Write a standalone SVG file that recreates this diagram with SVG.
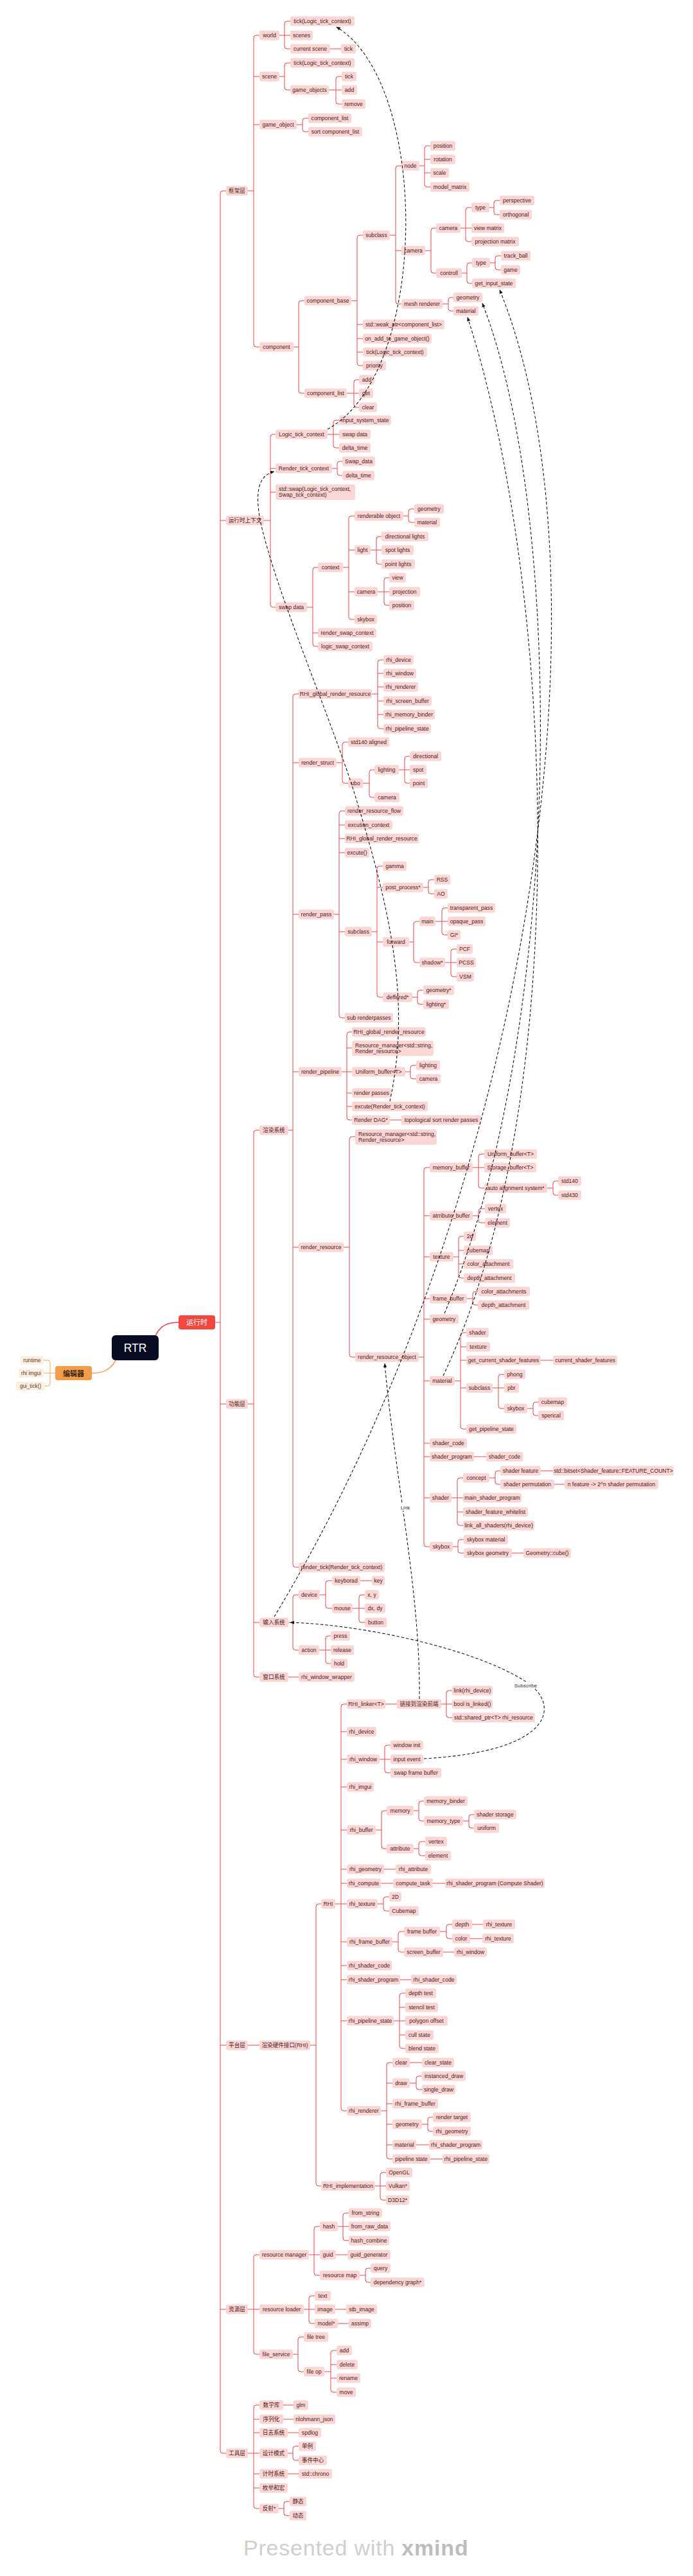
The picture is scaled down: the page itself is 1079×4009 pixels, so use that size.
<svg xmlns="http://www.w3.org/2000/svg" width="1079" height="4009" viewBox="0 0 1079 4009">
<style>
.n rect{fill:#fcd6d5;rx:3px}
.n text{font-family:"Liberation Sans","Noto Sans CJK SC",sans-serif;font-size:8.6px;fill:#4a1c1c;text-anchor:middle}
.ml text{text-anchor:start}
.e rect{fill:#fdefe2;rx:3px}
.e text{font-family:"Liberation Sans",sans-serif;font-size:8.2px;fill:#5a3a25;text-anchor:middle}
#connectors path{fill:none;stroke:#e3474d;stroke-width:1}
#editorlinks path{fill:none;stroke:#efa55b;stroke-width:1}
#relations path{fill:none;stroke:#141414;stroke-width:1.1;stroke-dasharray:4.5 3;marker-end:url(#ah)}
.lbl{font-family:"Liberation Sans",sans-serif;font-size:8px;fill:#333;text-anchor:middle}
</style>
<defs>
<marker id="ah" viewBox="0 0 10 10" refX="9" refY="5" markerWidth="6" markerHeight="6" orient="auto"><path d="M0 1L10 5L0 9z" fill="#141414" stroke="none"/></marker>
</defs>
<rect width="1079" height="4009" fill="#fff"/>

<g id="connectors">
<path d="M242 2079C250 2062 262 2058 278 2058" style="stroke-width:1.6"/>
<path d="M335 2058H343M352 297H347Q343 297 343 301V3814Q343 3818 347 3818H352M343 810H352M343 2185H352M343 3183H352M343 3594H352"/>
<path d="M386 297H395M404 55H399Q395 55 395 59V536Q395 540 399 540H404M395 119H404M395 194H404"/>
<path d="M435 55H443M452 33H447Q443 33 443 37V72Q443 76 447 76H452M443 55H452"/>
<path d="M514 76H531"/>
<path d="M435 119H443M452 98H447Q443 98 443 102V136Q443 140 447 140H452"/>
<path d="M512 140H523M532 119H527Q523 119 523 123V158Q523 162 527 162H532M523 140H532"/>
<path d="M462 194H471M480 184H475Q471 184 471 188V201Q471 205 475 205H480"/>
<path d="M457 540H465M474 468H469Q465 468 465 472V608Q465 612 469 612H474"/>
<path d="M547 468H556M565 366H560Q556 366 556 370V565Q556 569 560 569H565M556 505H565M556 527H565M556 548H565"/>
<path d="M607 366H616M625 258H620Q616 258 616 262V469Q616 473 620 473H625M616 390H625"/>
<path d="M653 258H661M670 227H665Q661 227 661 231V287Q661 291 665 291H670M661 248H670M661 269H670"/>
<path d="M662 390H671M679 355H675Q671 355 671 359V421Q671 425 675 425H679"/>
<path d="M717 355H725M734 323H729Q725 323 725 327V372Q725 376 729 376H734M725 355H734"/>
<path d="M762 323H769M778 312H773Q769 312 769 316V330Q769 334 773 334H778"/>
<path d="M719 425H727M735 409H731Q727 409 727 413V437Q727 441 731 441H735"/>
<path d="M763 409H771M780 398H775Q771 398 771 402V416Q771 420 775 420H780"/>
<path d="M689 473H698M706 463H702Q698 463 698 467V480Q698 484 702 484H706"/>
<path d="M540 612H551M559 591H555Q551 591 551 595V630Q551 634 555 634H559M551 612H559"/>
<path d="M411 810H421M429 676H425Q421 676 421 680V941Q421 945 425 945H429M421 729H429M421 766H429"/>
<path d="M510 676H519M528 654H523Q519 654 519 658V693Q519 697 523 697H528M519 676H528"/>
<path d="M517 729H525M533 718H529Q525 718 525 722V736Q525 740 529 740H533"/>
<path d="M478 945H487M495 883H491Q487 883 487 887V1002Q487 1006 491 1006H495M487 985H495"/>
<path d="M534 883H543M552 803H547Q543 803 543 807V960Q543 964 547 964H552M543 856H552M543 921H552"/>
<path d="M628 803H636M645 792H640Q636 792 636 796V809Q636 813 640 813H645"/>
<path d="M577 856H586M594 835H590Q586 835 586 839V874Q586 878 590 878H594M586 856H594"/>
<path d="M588 921H598M606 899H602Q598 899 598 903V938Q598 942 602 942H606M598 921H606"/>
<path d="M386 2185H395M404 1759H399Q395 1759 395 1763V2606Q395 2610 399 2610H404M395 2525H404"/>
<path d="M449 1759H456M465 1080H460Q456 1080 456 1084V2435Q456 2439 460 2439H465M456 1187H465M456 1423H465M456 1668H465M456 1941H465"/>
<path d="M579 1080H588M597 1027H592Q588 1027 588 1031V1130Q588 1134 592 1134H597M588 1048H597M588 1069H597M588 1091H597M588 1112H597"/>
<path d="M524 1187H533M542 1155H537Q533 1155 533 1159V1215Q533 1219 537 1219H542"/>
<path d="M565 1219H575M583 1198H579Q575 1198 575 1202V1237Q575 1241 579 1241H583"/>
<path d="M621 1198H630M638 1177H634Q630 1177 630 1181V1215Q630 1219 634 1219H638M630 1198H638"/>
<path d="M520 1423H528M537 1262H532Q528 1262 528 1266V1580Q528 1584 532 1584H537M528 1284H537M528 1305H537M528 1327H537M528 1450H537"/>
<path d="M579 1450H587M596 1348H591Q587 1348 587 1352V1548Q587 1552 591 1552H596M587 1381H596M587 1466H596"/>
<path d="M659 1381H667M676 1369H671Q667 1369 667 1373V1387Q667 1391 671 1391H676"/>
<path d="M637 1466H644M653 1434H648Q644 1434 644 1438V1494Q644 1498 648 1498H653"/>
<path d="M678 1434H688M697 1413H692Q688 1413 688 1417V1451Q688 1455 692 1455H697M688 1434H697"/>
<path d="M693 1498H702M711 1477H706Q702 1477 702 1481V1516Q702 1520 706 1520H711M702 1498H711"/>
<path d="M642 1552H650M659 1541H654Q650 1541 650 1545V1559Q650 1563 654 1563H659"/>
<path d="M532 1668H540M548 1606H544Q540 1606 540 1610V1739Q540 1743 544 1743H548M540 1631H548M540 1668H548M540 1701H548M540 1722H548"/>
<path d="M631 1668H639M648 1658H643Q639 1658 639 1662V1675Q639 1679 643 1679H648"/>
<path d="M607 1743H625"/>
<path d="M535 1941H544M553 1769H548Q544 1769 544 1773V2108Q544 2112 548 2112H553"/>
<path d="M652 2112H660M669 1817H664Q660 1817 660 1821V2403Q660 2407 664 2407H669M660 1892H669M660 1956H669M660 2021H669M660 2053H669M660 2149H669M660 2246H669M660 2267H669M660 2331H669"/>
<path d="M736 1817H745M754 1796H749Q745 1796 745 1800V1845Q745 1849 749 1849H754M745 1817H754"/>
<path d="M852 1849H861M869 1838H865Q861 1838 861 1842V1856Q861 1860 865 1860H869"/>
<path d="M736 1892H745M755 1881H749Q745 1881 745 1885V1899Q745 1903 749 1903H755"/>
<path d="M706 1956H714M722 1924H718Q714 1924 714 1928V1985Q714 1989 718 1989H722M714 1946H722M714 1967H722"/>
<path d="M727 2021H736M744 2010H740Q736 2010 736 2014V2027Q736 2031 740 2031H744"/>
<path d="M708 2149H717M726 2074H721Q717 2074 717 2078V2220Q717 2224 721 2224H726M717 2096H726M717 2117H726M717 2160H726"/>
<path d="M842 2117H861"/>
<path d="M767 2160H776M785 2139H780Q776 2139 776 2143V2188Q776 2192 780 2192H785M776 2160H785"/>
<path d="M821 2192H830M838 2182H834Q830 2182 830 2186V2199Q830 2203 834 2203H838"/>
<path d="M738 2267H757"/>
<path d="M703 2331H712M721 2300H716Q712 2300 712 2304V2370Q712 2374 716 2374H721M712 2331H721M712 2353H721"/>
<path d="M762 2300H771M779 2289H775Q771 2289 771 2293V2306Q771 2310 775 2310H779"/>
<path d="M842 2289H861M863 2310H879"/>
<path d="M705 2407H713M722 2396H717Q713 2396 713 2400V2413Q713 2417 717 2417H722"/>
<path d="M797 2417H815"/>
<path d="M449 2525H456M465 2482H460Q456 2482 456 2486V2564Q456 2568 460 2568H465"/>
<path d="M498 2482H507M517 2460H511Q507 2460 507 2464V2499Q507 2503 511 2503H517"/>
<path d="M561 2460H579"/>
<path d="M549 2503H559M568 2482H563Q559 2482 559 2486V2521Q559 2525 563 2525H568M559 2503H568"/>
<path d="M497 2568H507M515 2546H511Q507 2546 507 2550V2585Q507 2589 511 2589H515M507 2568H515"/>
<path d="M449 2610H465"/>
<path d="M386 3183H404"/>
<path d="M483 3183H492M500 2963H496Q492 2963 492 2967V3398Q492 3402 496 3402H500"/>
<path d="M522 2963H531M540 2652H535Q531 2652 531 2656V3281Q531 3285 535 3285H540M531 2695H540M531 2738H540M531 2781H540M531 2848H540M531 2909H540M531 2931H540M531 2963H540M531 3022H540M531 3059H540M531 3081H540M531 3145H540"/>
<path d="M600 2652H618"/>
<path d="M687 2652H695M704 2631H699Q695 2631 695 2635V2669Q695 2673 699 2673H704M695 2652H704"/>
<path d="M591 2738H599M608 2716H603Q599 2716 599 2720V2755Q599 2759 603 2759H608M599 2738H608"/>
<path d="M585 2848H594M602 2818H598Q594 2818 594 2822V2873Q594 2877 598 2877H602"/>
<path d="M644 2818H652M660 2803H656Q652 2803 652 2807V2830Q652 2834 656 2834H660"/>
<path d="M721 2834H730M738 2824H734Q730 2824 730 2828V2841Q730 2845 734 2845H738"/>
<path d="M644 2877H652M662 2866H656Q652 2866 652 2870V2884Q652 2888 656 2888H662"/>
<path d="M598 2909H616M593 2931H612M674 2931H693"/>
<path d="M588 2963H597M606 2952H601Q597 2952 597 2956V2970Q597 2974 601 2974H606"/>
<path d="M611 3022H620M629 3006H624Q620 3006 620 3010V3034Q620 3038 624 3038H629"/>
<path d="M685 3006H695M704 2995H699Q695 2995 695 2999V3013Q695 3017 699 3017H704"/>
<path d="M735 2995H752M732 3017H751M690 3038H707M623 3081H640"/>
<path d="M613 3145H622M631 3102H626Q622 3102 622 3106V3184Q622 3188 626 3188H631M622 3124H631M622 3145H631M622 3167H631"/>
<path d="M593 3285H602M611 3210H606Q602 3210 602 3214V3356Q602 3360 606 3360H611M602 3242H611M602 3274H611M602 3306H611M602 3338H611"/>
<path d="M638 3210H657"/>
<path d="M638 3242H648M657 3231H652Q648 3231 648 3235V3248Q648 3252 652 3252H657"/>
<path d="M657 3306H666M674 3295H670Q666 3295 666 3299V3313Q666 3317 670 3317H674"/>
<path d="M648 3338H668M670 3360H689"/>
<path d="M584 3402H592M601 3381H596Q592 3381 592 3385V3420Q592 3424 596 3424H601M592 3402H601"/>
<path d="M386 3594H395M404 3509H399Q395 3509 395 3513V3660Q395 3664 399 3664H404M395 3594H404"/>
<path d="M481 3509H489M498 3465H493Q489 3465 489 3469V3537Q489 3541 493 3541H498M489 3509H498"/>
<path d="M526 3465H534M543 3444H538Q534 3444 534 3448V3483Q534 3487 538 3487H543M534 3465H543"/>
<path d="M523 3509H541"/>
<path d="M560 3541H569M577 3530H573Q569 3530 569 3534V3548Q569 3552 573 3552H577"/>
<path d="M473 3594H481M490 3573H485Q481 3573 481 3577V3612Q481 3616 485 3616H490M481 3594H490"/>
<path d="M522 3594H539M526 3616H543"/>
<path d="M456 3664H464M473 3637H468Q464 3637 464 3641V3687Q464 3691 468 3691H473"/>
<path d="M505 3691H515M524 3658H519Q515 3658 515 3662V3719Q515 3723 519 3723H524M515 3680H524M515 3701H524"/>
<path d="M386 3818H395M404 3743H399Q395 3743 395 3747V3900Q395 3904 399 3904H404M395 3765H404M395 3786H404M395 3818H404M395 3850H404M395 3872H404"/>
<path d="M441 3743H457M441 3765H457M448 3786H465M448 3850H465"/>
<path d="M448 3818H456M465 3807H460Q456 3807 456 3811V3825Q456 3829 460 3829H465"/>
<path d="M434 3904H442M451 3893H446Q442 3893 442 3897V3911Q442 3915 446 3915H451"/>
</g>
<g id="editorlinks">
<path d="M180 2117C172 2132 160 2137 143 2137" style="stroke-width:1.6"/>
<path d="M86 2137H78M68 2117H74Q78 2117 78 2121V2153Q78 2157 74 2157H70M78 2137H68"/>
</g>

<g id="n-rtr"><rect x="174" y="2078" width="73" height="39" rx="6" fill="#070b24"/><text x="210.5" y="2104" font-family="Liberation Sans,sans-serif" font-size="17.5" fill="#fff" text-anchor="middle">RTR</text></g>
<g id="n-runtime-root"><rect x="278" y="2047" width="57" height="22" rx="4" fill="#f2473d"/><text x="306.5" y="2062" font-family="Noto Sans CJK SC,sans-serif" font-size="11" fill="#fff" text-anchor="middle">运行时</text></g>
<g id="n-editor"><rect x="86" y="2126" width="57" height="22" rx="4" fill="#f39c4a"/><text x="114.5" y="2141.5" font-family="Noto Sans CJK SC,sans-serif" font-size="11" font-weight="bold" fill="#3a220e" text-anchor="middle">编辑器</text></g>
<g id="n-ed-runtime" class="e"><rect x="32" y="2110" width="36" height="14"/><text x="50" y="2120">runtime</text></g>
<g id="n-ed-imgui" class="e"><rect x="29" y="2130" width="39" height="14"/><text x="48.5" y="2140">rhi imgui</text></g>
<g id="n-ed-guitick" class="e"><rect x="25" y="2150" width="45" height="14"/><text x="47.5" y="2160">gui_tick()</text></g>

<g id="n-f0" class="n"><rect x="352" y="289.5" width="34" height="15"/><text x="369" y="300">框架层</text></g>
<g id="n-f1" class="n"><rect x="404" y="47.5" width="31" height="15"/><text x="419.5" y="58">world</text></g>
<g id="n-f1a" class="n"><rect x="452" y="25.5" width="100" height="15"/><text x="502" y="36">tick(Logic_tick_context)</text></g>
<g id="n-f1b" class="n"><rect x="452" y="47.5" width="35" height="15"/><text x="469.5" y="58">scenes</text></g>
<g id="n-f1c" class="n"><rect x="452" y="68.5" width="62" height="15"/><text x="483" y="79">current scene</text></g>
<g id="n-f1c1" class="n"><rect x="531" y="68.5" width="23" height="15"/><text x="542.5" y="79">tick</text></g>
<g id="n-f2" class="n"><rect x="404" y="111.5" width="31" height="15"/><text x="419.5" y="122">scene</text></g>
<g id="n-f2a" class="n"><rect x="452" y="90.5" width="100" height="15"/><text x="502" y="101">tick(Logic_tick_context)</text></g>
<g id="n-f2b" class="n"><rect x="452" y="132.5" width="60" height="15"/><text x="482" y="143">game_objects</text></g>
<g id="n-f2b1" class="n"><rect x="532" y="111.5" width="23" height="15"/><text x="543.5" y="122">tick</text></g>
<g id="n-f2b2" class="n"><rect x="532" y="132.5" width="24" height="15"/><text x="544" y="143">add</text></g>
<g id="n-f2b3" class="n"><rect x="532" y="154.5" width="37" height="15"/><text x="550.5" y="165">remove</text></g>
<g id="n-f3" class="n"><rect x="404" y="186.5" width="58" height="15"/><text x="433" y="197">game_object</text></g>
<g id="n-f3a" class="n"><rect x="480" y="176.5" width="67" height="15"/><text x="513.5" y="187">component_list</text></g>
<g id="n-f3b" class="n"><rect x="480" y="197.5" width="84" height="15"/><text x="522" y="208">sort component_list</text></g>
<g id="n-f4" class="n"><rect x="404" y="532.5" width="53" height="15"/><text x="430.5" y="543">component</text></g>
<g id="n-f4a" class="n"><rect x="474" y="460.5" width="73" height="15"/><text x="510.5" y="471">component_base</text></g>
<g id="n-f4a1" class="n"><rect x="565" y="358.5" width="42" height="15"/><text x="586" y="369">subclass</text></g>
<g id="n-f4a1a" class="n"><rect x="625" y="250.5" width="28" height="15"/><text x="639" y="261">node</text></g>
<g id="n-pos" class="n"><rect x="670" y="219.5" width="39" height="15"/><text x="689.5" y="230">position</text></g>
<g id="n-rot" class="n"><rect x="670" y="240.5" width="39" height="15"/><text x="689.5" y="251">rotation</text></g>
<g id="n-scale" class="n"><rect x="670" y="261.5" width="29" height="15"/><text x="684.5" y="272">scale</text></g>
<g id="n-modelm" class="n"><rect x="670" y="283.5" width="61" height="15"/><text x="700.5" y="294">model_matrix</text></g>
<g id="n-f4a1b" class="n"><rect x="625" y="382.5" width="37" height="15"/><text x="643.5" y="393">camera</text></g>
<g id="n-camin" class="n"><rect x="679" y="347.5" width="38" height="15"/><text x="698" y="358">camera</text></g>
<g id="n-camtype" class="n"><rect x="734" y="315.5" width="28" height="15"/><text x="748" y="326">type</text></g>
<g id="n-persp" class="n"><rect x="778" y="304.5" width="54" height="15"/><text x="805" y="315">perspective</text></g>
<g id="n-ortho" class="n"><rect x="778" y="326.5" width="50" height="15"/><text x="803" y="337">orthogonal</text></g>
<g id="n-viewm" class="n"><rect x="734" y="347.5" width="51" height="15"/><text x="759.5" y="358">view matrix</text></g>
<g id="n-projm" class="n"><rect x="734" y="368.5" width="74" height="15"/><text x="771" y="379">projection matrix</text></g>
<g id="n-controll" class="n"><rect x="679" y="417.5" width="40" height="15"/><text x="699" y="428">controll</text></g>
<g id="n-ctype" class="n"><rect x="735" y="401.5" width="28" height="15"/><text x="749" y="412">type</text></g>
<g id="n-trackball" class="n"><rect x="780" y="390.5" width="46" height="15"/><text x="803" y="401">track_ball</text></g>
<g id="n-game" class="n"><rect x="780" y="412.5" width="30" height="15"/><text x="795" y="423">game</text></g>
<g id="n-getinput" class="n"><rect x="735" y="433.5" width="68" height="15"/><text x="769" y="444">get_input_state</text></g>
<g id="n-meshr" class="n"><rect x="625" y="465.5" width="64" height="15"/><text x="657" y="476">mesh renderer</text></g>
<g id="n-mgeom" class="n"><rect x="706" y="455.5" width="45" height="15"/><text x="728.5" y="466">geometry</text></g>
<g id="n-mmat" class="n"><rect x="706" y="476.5" width="39" height="15"/><text x="725.5" y="487">material</text></g>
<g id="n-f4a2" class="n"><rect x="565" y="497.5" width="127" height="15"/><text x="628.5" y="508">std::weak_ptr&lt;component_list&gt;</text></g>
<g id="n-f4a3" class="n"><rect x="565" y="519.5" width="107" height="15"/><text x="618.5" y="530">on_add_to_game_object()</text></g>
<g id="n-f4a4" class="n"><rect x="565" y="540.5" width="100" height="15"/><text x="615" y="551">tick(Logic_tick_context)</text></g>
<g id="n-f4a5" class="n"><rect x="565" y="561.5" width="36" height="15"/><text x="583" y="572">priority</text></g>
<g id="n-f4b" class="n"><rect x="474" y="604.5" width="66" height="15"/><text x="507" y="615">component_list</text></g>
<g id="n-cladd" class="n"><rect x="559" y="583.5" width="24" height="15"/><text x="571" y="594">add</text></g>
<g id="n-clget" class="n"><rect x="559" y="604.5" width="22" height="15"/><text x="570" y="615">get</text></g>
<g id="n-clclear" class="n"><rect x="559" y="626.5" width="28" height="15"/><text x="573" y="637">clear</text></g>

<g id="n-c0" class="n"><rect x="352" y="802.5" width="59" height="15"/><text x="381.5" y="813">运行时上下文</text></g>
<g id="n-c1" class="n"><rect x="429" y="668.5" width="81" height="15"/><text x="469.5" y="679">Logic_tick_context</text></g>
<g id="n-c1a" class="n"><rect x="528" y="646.5" width="81" height="15"/><text x="568.5" y="657">input_system_state</text></g>
<g id="n-c1b" class="n"><rect x="528" y="668.5" width="49" height="15"/><text x="552.5" y="679">swap data</text></g>
<g id="n-c1c" class="n"><rect x="528" y="689.5" width="49" height="15"/><text x="552.5" y="700">delta_time</text></g>
<g id="n-c2" class="n"><rect x="429" y="721.5" width="88" height="15"/><text x="473" y="732">Render_tick_context</text></g>
<g id="n-c2a" class="n"><rect x="533" y="710.5" width="51" height="15"/><text x="558.5" y="721">Swap_data</text></g>
<g id="n-c2b" class="n"><rect x="533" y="732.5" width="50" height="15"/><text x="558" y="743">delta_time</text></g>
<g id="n-c3" class="n ml"><rect x="429" y="754" width="124" height="24"/><text x="434" y="764">std::swap(Logic_tick_context,</text><text x="434" y="773">Swap_tick_context)</text></g>
<g id="n-c4" class="n"><rect x="429" y="937.5" width="49" height="15"/><text x="453.5" y="948">swap data</text></g>
<g id="n-ctx" class="n"><rect x="495" y="875.5" width="39" height="15"/><text x="514.5" y="886">context</text></g>
<g id="n-rendobj" class="n"><rect x="552" y="795.5" width="76" height="15"/><text x="590" y="806">renderable object</text></g>
<g id="n-rogeom" class="n"><rect x="645" y="784.5" width="46" height="15"/><text x="668" y="795">geometry</text></g>
<g id="n-romat" class="n"><rect x="645" y="805.5" width="40" height="15"/><text x="665" y="816">material</text></g>
<g id="n-light" class="n"><rect x="552" y="848.5" width="25" height="15"/><text x="564.5" y="859">light</text></g>
<g id="n-dirl" class="n"><rect x="594" y="827.5" width="73" height="15"/><text x="630.5" y="838">directional lights</text></g>
<g id="n-spotl" class="n"><rect x="594" y="848.5" width="50" height="15"/><text x="619" y="859">spot lights</text></g>
<g id="n-pointl" class="n"><rect x="594" y="870.5" width="52" height="15"/><text x="620" y="881">point lights</text></g>
<g id="n-ctxcam" class="n"><rect x="552" y="913.5" width="36" height="15"/><text x="570" y="924">camera</text></g>
<g id="n-view" class="n"><rect x="606" y="891.5" width="26" height="15"/><text x="619" y="902">view</text></g>
<g id="n-proj" class="n"><rect x="606" y="913.5" width="48" height="15"/><text x="630" y="924">projection</text></g>
<g id="n-cpos" class="n"><rect x="606" y="934.5" width="39" height="15"/><text x="625.5" y="945">position</text></g>
<g id="n-ctxsky" class="n"><rect x="552" y="956.5" width="35" height="15"/><text x="569.5" y="967">skybox</text></g>
<g id="n-rswap" class="n"><rect x="495" y="977.5" width="91" height="15"/><text x="540.5" y="988">render_swap_context</text></g>
<g id="n-lswap" class="n"><rect x="495" y="998.5" width="85" height="15"/><text x="537.5" y="1009">logic_swap_context</text></g>

<g id="n-g0" class="n"><rect x="352" y="2177.5" width="34" height="15"/><text x="369" y="2188">功能层</text></g>
<g id="n-g1" class="n"><rect x="404" y="1751.5" width="45" height="15"/><text x="426.5" y="1762">渲染系统</text></g>
<g id="n-g1a" class="n"><rect x="465" y="1072.5" width="114" height="15"/><text x="522" y="1083">RHI_global_render_resource</text></g>
<g id="n-grdev" class="n"><rect x="597" y="1019.5" width="47" height="15"/><text x="620.5" y="1030">rhi_device</text></g>
<g id="n-grwin" class="n"><rect x="597" y="1040.5" width="51" height="15"/><text x="622.5" y="1051">rhi_window</text></g>
<g id="n-grren" class="n"><rect x="597" y="1061.5" width="54" height="15"/><text x="624" y="1072">rhi_renderer</text></g>
<g id="n-grscr" class="n"><rect x="597" y="1083.5" width="75" height="15"/><text x="634.5" y="1094">rhi_screen_buffer</text></g>
<g id="n-grmem" class="n"><rect x="597" y="1104.5" width="80" height="15"/><text x="637" y="1115">rhi_memory_binder</text></g>
<g id="n-grpipe" class="n"><rect x="597" y="1126.5" width="74" height="15"/><text x="634" y="1137">rhi_pipeline_state</text></g>
<g id="n-g1b" class="n"><rect x="465" y="1179.5" width="59" height="15"/><text x="494.5" y="1190">render_struct</text></g>
<g id="n-std140a" class="n"><rect x="542" y="1147.5" width="64" height="15"/><text x="574" y="1158">std140 aligned</text></g>
<g id="n-ubo" class="n"><rect x="542" y="1211.5" width="23" height="15"/><text x="553.5" y="1222">ubo</text></g>
<g id="n-ubolight" class="n"><rect x="583" y="1190.5" width="38" height="15"/><text x="602" y="1201">lighting</text></g>
<g id="n-ubodir" class="n"><rect x="638" y="1169.5" width="49" height="15"/><text x="662.5" y="1180">directional</text></g>
<g id="n-ubospot" class="n"><rect x="638" y="1190.5" width="26" height="15"/><text x="651" y="1201">spot</text></g>
<g id="n-ubopoint" class="n"><rect x="638" y="1211.5" width="28" height="15"/><text x="652" y="1222">point</text></g>
<g id="n-ubocam" class="n"><rect x="583" y="1233.5" width="39" height="15"/><text x="602.5" y="1244">camera</text></g>
<g id="n-g1c" class="n"><rect x="465" y="1415.5" width="55" height="15"/><text x="492.5" y="1426">render_pass</text></g>
<g id="n-rrflow" class="n"><rect x="537" y="1254.5" width="91" height="15"/><text x="582.5" y="1265">render_resource_flow</text></g>
<g id="n-exctx" class="n"><rect x="537" y="1276.5" width="74" height="15"/><text x="574" y="1287">excution_context</text></g>
<g id="n-rpglob" class="n"><rect x="537" y="1297.5" width="115" height="15"/><text x="594.5" y="1308">RHI_global_render_resource</text></g>
<g id="n-excute" class="n"><rect x="537" y="1319.5" width="38" height="15"/><text x="556" y="1330">excute()</text></g>
<g id="n-rpsub" class="n"><rect x="537" y="1442.5" width="42" height="15"/><text x="558" y="1453">subclass</text></g>
<g id="n-gamma" class="n"><rect x="596" y="1340.5" width="37" height="15"/><text x="614.5" y="1351">gamma</text></g>
<g id="n-postp" class="n"><rect x="596" y="1373.5" width="63" height="15"/><text x="627.5" y="1384">post_process*</text></g>
<g id="n-rss" class="n"><rect x="676" y="1361.5" width="25" height="15"/><text x="688.5" y="1372">RSS</text></g>
<g id="n-ao" class="n"><rect x="676" y="1383.5" width="21" height="15"/><text x="686.5" y="1394">AO</text></g>
<g id="n-forward" class="n"><rect x="596" y="1458.5" width="41" height="15"/><text x="616.5" y="1469">forward</text></g>
<g id="n-main" class="n"><rect x="653" y="1426.5" width="25" height="15"/><text x="665.5" y="1437">main</text></g>
<g id="n-transp" class="n"><rect x="697" y="1405.5" width="74" height="15"/><text x="734" y="1416">transparent_pass</text></g>
<g id="n-opaque" class="n"><rect x="697" y="1426.5" width="59" height="15"/><text x="726.5" y="1437">opaque_pass</text></g>
<g id="n-gi" class="n"><rect x="697" y="1447.5" width="20" height="15"/><text x="707" y="1458">GI*</text></g>
<g id="n-shadow" class="n"><rect x="653" y="1490.5" width="40" height="15"/><text x="673" y="1501">shadow*</text></g>
<g id="n-pcf" class="n"><rect x="711" y="1469.5" width="25" height="15"/><text x="723.5" y="1480">PCF</text></g>
<g id="n-pcss" class="n"><rect x="711" y="1490.5" width="30" height="15"/><text x="726" y="1501">PCSS</text></g>
<g id="n-vsm" class="n"><rect x="711" y="1512.5" width="27" height="15"/><text x="724.5" y="1523">VSM</text></g>
<g id="n-deff" class="n"><rect x="596" y="1544.5" width="46" height="15"/><text x="619" y="1555">deffered*</text></g>
<g id="n-dgeom" class="n"><rect x="659" y="1533.5" width="48" height="15"/><text x="683" y="1544">geometry*</text></g>
<g id="n-dlight" class="n"><rect x="659" y="1555.5" width="40" height="15"/><text x="679" y="1566">lighting*</text></g>
<g id="n-subrp" class="n"><rect x="537" y="1576.5" width="75" height="15"/><text x="574.5" y="1587">sub renderpasses</text></g>
<g id="n-g1d" class="n"><rect x="465" y="1660.5" width="67" height="15"/><text x="498.5" y="1671">render_pipeline</text></g>
<g id="n-pglob" class="n"><rect x="548" y="1598.5" width="115" height="15"/><text x="605.5" y="1609">RHI_global_render_resource</text></g>
<g id="n-presm" class="n ml"><rect x="548" y="1619.5" width="127" height="24"/><text x="553" y="1630">Resource_manager&lt;std::string,</text><text x="553" y="1639">Render_resource&gt;</text></g>
<g id="n-pubuf" class="n"><rect x="548" y="1660.5" width="83" height="15"/><text x="589.5" y="1671">Uniform_buffer&lt;T&gt;</text></g>
<g id="n-publ" class="n"><rect x="648" y="1650.5" width="37" height="15"/><text x="666.5" y="1661">lighting</text></g>
<g id="n-pubc" class="n"><rect x="648" y="1671.5" width="38" height="15"/><text x="667" y="1682">camera</text></g>
<g id="n-prp" class="n"><rect x="548" y="1693.5" width="61" height="15"/><text x="578.5" y="1704">render passes</text></g>
<g id="n-pexec" class="n"><rect x="548" y="1714.5" width="118" height="15"/><text x="607" y="1725">excute(Render_tick_context)</text></g>
<g id="n-pdag" class="n"><rect x="548" y="1735.5" width="59" height="15"/><text x="577.5" y="1746">Render DAG*</text></g>
<g id="n-ptopo" class="n"><rect x="625" y="1735.5" width="124" height="15"/><text x="687" y="1746">topological sort render passes</text></g>
<g id="n-g1e" class="n"><rect x="465" y="1933.5" width="70" height="15"/><text x="500" y="1944">render_resource</text></g>
<g id="n-rresm" class="n ml"><rect x="553" y="1757.5" width="127" height="24"/><text x="558" y="1768">Resource_manager&lt;std::string,</text><text x="558" y="1777">Render_resource&gt;</text></g>
<g id="n-rro" class="n"><rect x="553" y="2104.5" width="99" height="15"/><text x="602.5" y="2115">render_resource_object</text></g>
<g id="n-membuf" class="n"><rect x="669" y="1809.5" width="67" height="15"/><text x="702.5" y="1820">memory_buffer</text></g>
<g id="n-ubuf" class="n"><rect x="754" y="1788.5" width="82" height="15"/><text x="795" y="1799">Uniform_buffer&lt;T&gt;</text></g>
<g id="n-sbuf" class="n"><rect x="754" y="1809.5" width="81" height="15"/><text x="794.5" y="1820">Storage_buffer&lt;T&gt;</text></g>
<g id="n-autoal" class="n"><rect x="754" y="1841.5" width="98" height="15"/><text x="803" y="1852">auto alignment system*</text></g>
<g id="n-std140" class="n"><rect x="869" y="1830.5" width="36" height="15"/><text x="887" y="1841">std140</text></g>
<g id="n-std430" class="n"><rect x="869" y="1852.5" width="36" height="15"/><text x="887" y="1863">std430</text></g>
<g id="n-attrbuf" class="n"><rect x="669" y="1884.5" width="67" height="15"/><text x="702.5" y="1895">atrribute_buffer</text></g>
<g id="n-vertex" class="n"><rect x="755" y="1873.5" width="33" height="15"/><text x="771.5" y="1884">vertex</text></g>
<g id="n-element" class="n"><rect x="755" y="1895.5" width="39" height="15"/><text x="774.5" y="1906">element</text></g>
<g id="n-tex" class="n"><rect x="669" y="1948.5" width="37" height="15"/><text x="687.5" y="1959">texture</text></g>
<g id="n-2d" class="n"><rect x="722" y="1916.5" width="19" height="15"/><text x="731.5" y="1927">2d</text></g>
<g id="n-cubemap1" class="n"><rect x="722" y="1938.5" width="45" height="15"/><text x="744.5" y="1949">cubemap</text></g>
<g id="n-coloratt" class="n"><rect x="722" y="1959.5" width="77" height="15"/><text x="760.5" y="1970">color_attachment</text></g>
<g id="n-depthatt" class="n"><rect x="722" y="1981.5" width="80" height="15"/><text x="762" y="1992">depth_attachment</text></g>
<g id="n-fb" class="n"><rect x="669" y="2013.5" width="58" height="15"/><text x="698" y="2024">frame_buffer</text></g>
<g id="n-fbcol" class="n"><rect x="744" y="2002.5" width="81" height="15"/><text x="784.5" y="2013">color_attachments</text></g>
<g id="n-fbdep" class="n"><rect x="744" y="2023.5" width="80" height="15"/><text x="784" y="2034">depth_attachment</text></g>
<g id="n-rgeom" class="n"><rect x="669" y="2045.5" width="45" height="15"/><text x="691.5" y="2056">geometry</text></g>
<g id="n-rmat" class="n"><rect x="669" y="2141.5" width="39" height="15"/><text x="688.5" y="2152">material</text></g>
<g id="n-mshader" class="n"><rect x="726" y="2066.5" width="35" height="15"/><text x="743.5" y="2077">shader</text></g>
<g id="n-mtex" class="n"><rect x="726" y="2088.5" width="37" height="15"/><text x="744.5" y="2099">texture</text></g>
<g id="n-gcsf" class="n"><rect x="726" y="2109.5" width="116" height="15"/><text x="784" y="2120">get_current_shader_features</text></g>
<g id="n-csf" class="n"><rect x="861" y="2109.5" width="100" height="15"/><text x="911" y="2120">current_shader_features</text></g>
<g id="n-msub" class="n"><rect x="726" y="2152.5" width="41" height="15"/><text x="746.5" y="2163">subclass</text></g>
<g id="n-phong" class="n"><rect x="785" y="2131.5" width="33" height="15"/><text x="801.5" y="2142">phong</text></g>
<g id="n-pbr" class="n"><rect x="785" y="2152.5" width="23" height="15"/><text x="796.5" y="2163">pbr</text></g>
<g id="n-msky" class="n"><rect x="785" y="2184.5" width="36" height="15"/><text x="803" y="2195">skybox</text></g>
<g id="n-cubemap2" class="n"><rect x="838" y="2174.5" width="45" height="15"/><text x="860.5" y="2185">cubemap</text></g>
<g id="n-sperical" class="n"><rect x="838" y="2195.5" width="40" height="15"/><text x="858" y="2206">sperical</text></g>
<g id="n-gps" class="n"><rect x="726" y="2216.5" width="78" height="15"/><text x="765" y="2227">get_pipeline_state</text></g>
<g id="n-scode" class="n"><rect x="669" y="2238.5" width="58" height="15"/><text x="698" y="2249">shader_code</text></g>
<g id="n-sprog" class="n"><rect x="669" y="2259.5" width="69" height="15"/><text x="703.5" y="2270">shader_program</text></g>
<g id="n-sprogc" class="n"><rect x="757" y="2259.5" width="57" height="15"/><text x="785.5" y="2270">shader_code</text></g>
<g id="n-shader" class="n"><rect x="669" y="2323.5" width="34" height="15"/><text x="686" y="2334">shader</text></g>
<g id="n-concept" class="n"><rect x="721" y="2292.5" width="41" height="15"/><text x="741.5" y="2303">concept</text></g>
<g id="n-sfeat" class="n"><rect x="779" y="2281.5" width="63" height="15"/><text x="810.5" y="2292">shader feature</text></g>
<g id="n-bitset" class="n"><rect x="861" y="2281.5" width="188" height="15"/><text x="955" y="2292">std::bitset&lt;Shader_feature::FEATURE_COUNT&gt;</text></g>
<g id="n-sperm" class="n"><rect x="779" y="2302.5" width="84" height="15"/><text x="821" y="2313">shader permutation</text></g>
<g id="n-nfeat" class="n"><rect x="879" y="2302.5" width="146" height="15"/><text x="952" y="2313">n feature -&gt; 2^n shader permutation</text></g>
<g id="n-mainsp" class="n"><rect x="721" y="2323.5" width="91" height="15"/><text x="766.5" y="2334">main_shader_program</text></g>
<g id="n-sfw" class="n"><rect x="721" y="2345.5" width="101" height="15"/><text x="771.5" y="2356">shader_feature_whitelist</text></g>
<g id="n-linkall" class="n"><rect x="721" y="2366.5" width="111" height="15"/><text x="776.5" y="2377">link_all_shaders(rhi_device)</text></g>
<g id="n-rsky" class="n"><rect x="669" y="2399.5" width="36" height="15"/><text x="687" y="2410">skybox</text></g>
<g id="n-skymat" class="n"><rect x="722" y="2388.5" width="69" height="15"/><text x="756.5" y="2399">skybox material</text></g>
<g id="n-skygeo" class="n"><rect x="722" y="2409.5" width="75" height="15"/><text x="759.5" y="2420">skybox geometry</text></g>
<g id="n-cube" class="n"><rect x="815" y="2409.5" width="74" height="15"/><text x="852" y="2420">Geometry::cube()</text></g>
<g id="n-g1f" class="n"><rect x="465" y="2431.5" width="134" height="15"/><text x="532" y="2442">render_tick(Render_tick_context)</text></g>
<g id="n-g2" class="n"><rect x="404" y="2517.5" width="45" height="15"/><text x="426.5" y="2528">输入系统</text></g>
<g id="n-device" class="n"><rect x="465" y="2474.5" width="33" height="15"/><text x="481.5" y="2485">device</text></g>
<g id="n-kb" class="n"><rect x="517" y="2452.5" width="44" height="15"/><text x="539" y="2463">keyborad</text></g>
<g id="n-key" class="n"><rect x="579" y="2452.5" width="20" height="15"/><text x="589" y="2463">key</text></g>
<g id="n-mouse" class="n"><rect x="517" y="2495.5" width="32" height="15"/><text x="533" y="2506">mouse</text></g>
<g id="n-xy" class="n"><rect x="568" y="2474.5" width="22" height="15"/><text x="579" y="2485">x, y</text></g>
<g id="n-dxdy" class="n"><rect x="568" y="2495.5" width="32" height="15"/><text x="584" y="2506">dx, dy</text></g>
<g id="n-button" class="n"><rect x="568" y="2517.5" width="34" height="15"/><text x="585" y="2528">button</text></g>
<g id="n-action" class="n"><rect x="465" y="2560.5" width="32" height="15"/><text x="481" y="2571">action</text></g>
<g id="n-press" class="n"><rect x="515" y="2538.5" width="30" height="15"/><text x="530" y="2549">press</text></g>
<g id="n-release" class="n"><rect x="515" y="2560.5" width="36" height="15"/><text x="533" y="2571">release</text></g>
<g id="n-hold" class="n"><rect x="515" y="2581.5" width="26" height="15"/><text x="528" y="2592">hold</text></g>
<g id="n-g3" class="n"><rect x="404" y="2602.5" width="45" height="15"/><text x="426.5" y="2613">窗口系统</text></g>
<g id="n-rww" class="n"><rect x="465" y="2602.5" width="87" height="15"/><text x="508.5" y="2613">rhi_window_wrapper</text></g>

<g id="n-p0" class="n"><rect x="352" y="3175.5" width="34" height="15"/><text x="369" y="3186">平台层</text></g>
<g id="n-p1" class="n"><rect x="404" y="3175.5" width="79" height="15"/><text x="443.5" y="3186">渲染硬件接口(RHI)</text></g>
<g id="n-p2" class="n"><rect x="500" y="2955.5" width="22" height="15"/><text x="511" y="2966">RHI</text></g>
<g id="n-linker" class="n"><rect x="540" y="2644.5" width="60" height="15"/><text x="570" y="2655">RHI_linker&lt;T&gt;</text></g>
<g id="n-linkfront" class="n"><rect x="618" y="2644.5" width="69" height="15"/><text x="652.5" y="2655">链接到渲染前端</text></g>
<g id="n-linkdev" class="n"><rect x="704" y="2623.5" width="63" height="15"/><text x="735.5" y="2634">link(rhi_device)</text></g>
<g id="n-islinked" class="n"><rect x="704" y="2644.5" width="63" height="15"/><text x="735.5" y="2655">bool is_linked()</text></g>
<g id="n-sptr" class="n"><rect x="704" y="2665.5" width="129" height="15"/><text x="768.5" y="2676">std::shared_ptr&lt;T&gt; rhi_resource</text></g>
<g id="n-rdev" class="n"><rect x="540" y="2687.5" width="46" height="15"/><text x="563" y="2698">rhi_device</text></g>
<g id="n-rwin" class="n"><rect x="540" y="2730.5" width="51" height="15"/><text x="565.5" y="2741">rhi_window</text></g>
<g id="n-winit" class="n"><rect x="608" y="2708.5" width="51" height="15"/><text x="633.5" y="2719">window init</text></g>
<g id="n-inev" class="n"><rect x="608" y="2730.5" width="51" height="15"/><text x="633.5" y="2741">input event</text></g>
<g id="n-swapfb" class="n"><rect x="608" y="2751.5" width="79" height="15"/><text x="647.5" y="2762">swap frame buffer</text></g>
<g id="n-rimgui" class="n"><rect x="540" y="2773.5" width="42" height="15"/><text x="561" y="2784">rhi_imgui</text></g>
<g id="n-rbuf" class="n"><rect x="540" y="2840.5" width="45" height="15"/><text x="562.5" y="2851">rhi_buffer</text></g>
<g id="n-memory" class="n"><rect x="602" y="2810.5" width="42" height="15"/><text x="623" y="2821">memory</text></g>
<g id="n-membind" class="n"><rect x="660" y="2795.5" width="68" height="15"/><text x="694" y="2806">memory_binder</text></g>
<g id="n-memtype" class="n"><rect x="660" y="2826.5" width="61" height="15"/><text x="690.5" y="2837">memory_type</text></g>
<g id="n-sstor" class="n"><rect x="738" y="2816.5" width="66" height="15"/><text x="771" y="2827">shader storage</text></g>
<g id="n-uniform" class="n"><rect x="738" y="2837.5" width="39" height="15"/><text x="757.5" y="2848">uniform</text></g>
<g id="n-attr" class="n"><rect x="602" y="2869.5" width="42" height="15"/><text x="623" y="2880">attribute</text></g>
<g id="n-avert" class="n"><rect x="662" y="2858.5" width="34" height="15"/><text x="679" y="2869">vertex</text></g>
<g id="n-aelem" class="n"><rect x="662" y="2880.5" width="40" height="15"/><text x="682" y="2891">element</text></g>
<g id="n-rgeo" class="n"><rect x="540" y="2901.5" width="58" height="15"/><text x="569" y="2912">rhi_geometry</text></g>
<g id="n-rattr" class="n"><rect x="616" y="2901.5" width="55" height="15"/><text x="643.5" y="2912">rhi_attribute</text></g>
<g id="n-rcomp" class="n"><rect x="540" y="2923.5" width="53" height="15"/><text x="566.5" y="2934">rhi_compute</text></g>
<g id="n-ctask" class="n"><rect x="612" y="2923.5" width="62" height="15"/><text x="643" y="2934">compute_task</text></g>
<g id="n-rspcs" class="n"><rect x="693" y="2923.5" width="155" height="15"/><text x="770.5" y="2934">rhi_shader_program (Compute Shader)</text></g>
<g id="n-rtex" class="n"><rect x="540" y="2955.5" width="48" height="15"/><text x="564" y="2966">rhi_texture</text></g>
<g id="n-2D" class="n"><rect x="606" y="2944.5" width="19" height="15"/><text x="615.5" y="2955">2D</text></g>
<g id="n-Cubemap" class="n"><rect x="606" y="2966.5" width="46" height="15"/><text x="629" y="2977">Cubemap</text></g>
<g id="n-rfb" class="n"><rect x="540" y="3014.5" width="71" height="15"/><text x="575.5" y="3025">rhi_frame_buffer</text></g>
<g id="n-fbuf" class="n"><rect x="629" y="2998.5" width="56" height="15"/><text x="657" y="3009">frame buffer</text></g>
<g id="n-depth" class="n"><rect x="704" y="2987.5" width="31" height="15"/><text x="719.5" y="2998">depth</text></g>
<g id="n-dtex" class="n"><rect x="752" y="2987.5" width="50" height="15"/><text x="777" y="2998">rhi_texture</text></g>
<g id="n-color" class="n"><rect x="704" y="3009.5" width="28" height="15"/><text x="718" y="3020">color</text></g>
<g id="n-ctex" class="n"><rect x="751" y="3009.5" width="49" height="15"/><text x="775.5" y="3020">rhi_texture</text></g>
<g id="n-scrbuf" class="n"><rect x="629" y="3030.5" width="61" height="15"/><text x="659.5" y="3041">screen_buffer</text></g>
<g id="n-scrwin" class="n"><rect x="707" y="3030.5" width="51" height="15"/><text x="732.5" y="3041">rhi_window</text></g>
<g id="n-rscode" class="n"><rect x="540" y="3051.5" width="70" height="15"/><text x="575" y="3062">rhi_shader_code</text></g>
<g id="n-rsprog" class="n"><rect x="540" y="3073.5" width="83" height="15"/><text x="581.5" y="3084">rhi_shader_program</text></g>
<g id="n-rsprogc" class="n"><rect x="640" y="3073.5" width="71" height="15"/><text x="675.5" y="3084">rhi_shader_code</text></g>
<g id="n-rpipe" class="n"><rect x="540" y="3137.5" width="73" height="15"/><text x="576.5" y="3148">rhi_pipeline_state</text></g>
<g id="n-dtest" class="n"><rect x="631" y="3094.5" width="48" height="15"/><text x="655" y="3105">depth test</text></g>
<g id="n-stest" class="n"><rect x="631" y="3116.5" width="51" height="15"/><text x="656.5" y="3127">stencil test</text></g>
<g id="n-poff" class="n"><rect x="631" y="3137.5" width="66" height="15"/><text x="664" y="3148">polygon offset</text></g>
<g id="n-cull" class="n"><rect x="631" y="3159.5" width="44" height="15"/><text x="653" y="3170">cull state</text></g>
<g id="n-blend" class="n"><rect x="631" y="3180.5" width="52" height="15"/><text x="657" y="3191">blend state</text></g>
<g id="n-rrend" class="n"><rect x="540" y="3277.5" width="53" height="15"/><text x="566.5" y="3288">rhi_renderer</text></g>
<g id="n-clear" class="n"><rect x="611" y="3202.5" width="27" height="15"/><text x="624.5" y="3213">clear</text></g>
<g id="n-clears" class="n"><rect x="657" y="3202.5" width="50" height="15"/><text x="682" y="3213">clear_state</text></g>
<g id="n-draw" class="n"><rect x="611" y="3234.5" width="27" height="15"/><text x="624.5" y="3245">draw</text></g>
<g id="n-instd" class="n"><rect x="657" y="3223.5" width="68" height="15"/><text x="691" y="3234">instanced_draw</text></g>
<g id="n-singd" class="n"><rect x="657" y="3244.5" width="52" height="15"/><text x="683" y="3255">single_draw</text></g>
<g id="n-rrfb" class="n"><rect x="611" y="3266.5" width="71" height="15"/><text x="646.5" y="3277">rhi_frame_buffer</text></g>
<g id="n-rrgeo" class="n"><rect x="611" y="3298.5" width="46" height="15"/><text x="634" y="3309">geometry</text></g>
<g id="n-rtarget" class="n"><rect x="674" y="3287.5" width="59" height="15"/><text x="703.5" y="3298">render target</text></g>
<g id="n-rrgeo2" class="n"><rect x="674" y="3309.5" width="59" height="15"/><text x="703.5" y="3320">rhi_geometry</text></g>
<g id="n-rrmat" class="n"><rect x="611" y="3330.5" width="37" height="15"/><text x="629.5" y="3341">material</text></g>
<g id="n-rrmatsp" class="n"><rect x="668" y="3330.5" width="83" height="15"/><text x="709.5" y="3341">rhi_shader_program</text></g>
<g id="n-pstate" class="n"><rect x="611" y="3352.5" width="59" height="15"/><text x="640.5" y="3363">pipeline state</text></g>
<g id="n-pstate2" class="n"><rect x="689" y="3352.5" width="73" height="15"/><text x="725.5" y="3363">rhi_pipeline_state</text></g>
<g id="n-rimpl" class="n"><rect x="500" y="3394.5" width="84" height="15"/><text x="542" y="3405">RHI_implementation</text></g>
<g id="n-opengl" class="n"><rect x="601" y="3373.5" width="41" height="15"/><text x="621.5" y="3384">OpenGL</text></g>
<g id="n-vulkan" class="n"><rect x="601" y="3394.5" width="37" height="15"/><text x="619.5" y="3405">Vulkan*</text></g>
<g id="n-d3d12" class="n"><rect x="601" y="3416.5" width="36" height="15"/><text x="619" y="3427">D3D12*</text></g>

<g id="n-r0" class="n"><rect x="352" y="3586.5" width="34" height="15"/><text x="369" y="3597">资源层</text></g>
<g id="n-resman" class="n"><rect x="404" y="3501.5" width="77" height="15"/><text x="442.5" y="3512">resource manager</text></g>
<g id="n-hash" class="n"><rect x="498" y="3457.5" width="28" height="15"/><text x="512" y="3468">hash</text></g>
<g id="n-fstr" class="n"><rect x="543" y="3436.5" width="52" height="15"/><text x="569" y="3447">from_string</text></g>
<g id="n-fraw" class="n"><rect x="543" y="3457.5" width="65" height="15"/><text x="575.5" y="3468">from_raw_data</text></g>
<g id="n-hcomb" class="n"><rect x="543" y="3479.5" width="63" height="15"/><text x="574.5" y="3490">hash_combine</text></g>
<g id="n-guid" class="n"><rect x="498" y="3501.5" width="25" height="15"/><text x="510.5" y="3512">guid</text></g>
<g id="n-guidgen" class="n"><rect x="541" y="3501.5" width="67" height="15"/><text x="574.5" y="3512">guid_generator</text></g>
<g id="n-resmap" class="n"><rect x="498" y="3533.5" width="62" height="15"/><text x="529" y="3544">resource map</text></g>
<g id="n-query" class="n"><rect x="577" y="3522.5" width="31" height="15"/><text x="592.5" y="3533">query</text></g>
<g id="n-depg" class="n"><rect x="577" y="3544.5" width="84" height="15"/><text x="619" y="3555">dependency graph*</text></g>
<g id="n-resload" class="n"><rect x="404" y="3586.5" width="69" height="15"/><text x="438.5" y="3597">resource loader</text></g>
<g id="n-text" class="n"><rect x="490" y="3565.5" width="25" height="15"/><text x="502.5" y="3576">text</text></g>
<g id="n-image" class="n"><rect x="490" y="3586.5" width="32" height="15"/><text x="506" y="3597">image</text></g>
<g id="n-stbi" class="n"><rect x="539" y="3586.5" width="48" height="15"/><text x="563" y="3597">stb_image</text></g>
<g id="n-model" class="n"><rect x="490" y="3608.5" width="36" height="15"/><text x="508" y="3619">model*</text></g>
<g id="n-assimp" class="n"><rect x="543" y="3608.5" width="35" height="15"/><text x="560.5" y="3619">assimp</text></g>
<g id="n-fsvc" class="n"><rect x="404" y="3656.5" width="52" height="15"/><text x="430" y="3667">file_service</text></g>
<g id="n-ftree" class="n"><rect x="473" y="3629.5" width="38" height="15"/><text x="492" y="3640">file tree</text></g>
<g id="n-fop" class="n"><rect x="473" y="3683.5" width="32" height="15"/><text x="489" y="3694">file op</text></g>
<g id="n-fadd" class="n"><rect x="524" y="3650.5" width="24" height="15"/><text x="536" y="3661">add</text></g>
<g id="n-fdel" class="n"><rect x="524" y="3672.5" width="33" height="15"/><text x="540.5" y="3683">delete</text></g>
<g id="n-fren" class="n"><rect x="524" y="3693.5" width="37" height="15"/><text x="542.5" y="3704">rename</text></g>
<g id="n-fmove" class="n"><rect x="524" y="3715.5" width="30" height="15"/><text x="539" y="3726">move</text></g>

<g id="n-t0" class="n"><rect x="352" y="3810.5" width="34" height="15"/><text x="369" y="3821">工具层</text></g>
<g id="n-math" class="n"><rect x="404" y="3735.5" width="37" height="15"/><text x="422.5" y="3746">数学库</text></g>
<g id="n-glm" class="n"><rect x="457" y="3735.5" width="23" height="15"/><text x="468.5" y="3746">glm</text></g>
<g id="n-ser" class="n"><rect x="404" y="3757.5" width="37" height="15"/><text x="422.5" y="3768">序列化</text></g>
<g id="n-json" class="n"><rect x="457" y="3757.5" width="65" height="15"/><text x="489.5" y="3768">nlohmann_json</text></g>
<g id="n-log" class="n"><rect x="404" y="3778.5" width="44" height="15"/><text x="426" y="3789">日志系统</text></g>
<g id="n-spdlog" class="n"><rect x="465" y="3778.5" width="35" height="15"/><text x="482.5" y="3789">spdlog</text></g>
<g id="n-dp" class="n"><rect x="404" y="3810.5" width="44" height="15"/><text x="426" y="3821">设计模式</text></g>
<g id="n-single" class="n"><rect x="465" y="3799.5" width="27" height="15"/><text x="478.5" y="3810">单例</text></g>
<g id="n-evc" class="n"><rect x="465" y="3821.5" width="44" height="15"/><text x="487" y="3832">事件中心</text></g>
<g id="n-timer" class="n"><rect x="404" y="3842.5" width="44" height="15"/><text x="426" y="3853">计时系统</text></g>
<g id="n-chrono" class="n"><rect x="465" y="3842.5" width="52" height="15"/><text x="491" y="3853">std::chrono</text></g>
<g id="n-enum" class="n"><rect x="404" y="3864.5" width="44" height="15"/><text x="426" y="3875">枚举和宏</text></g>
<g id="n-refl" class="n"><rect x="404" y="3896.5" width="30" height="15"/><text x="419" y="3907">反射*</text></g>
<g id="n-static" class="n"><rect x="451" y="3885.5" width="26" height="15"/><text x="464" y="3896">静态</text></g>
<g id="n-dynamic" class="n"><rect x="451" y="3907.5" width="26" height="15"/><text x="464" y="3918">动态</text></g>

<g id="relations">
<path d="M510 668C670 580 670 130 524 42"/>
<path d="M427 2516C830 1850 960 900 778 451"/>
<path d="M692 2044C880 1600 880 800 751 472"/>
<path d="M690 2141C900 1700 860 900 728 494"/>
<path d="M607 1714C640 1560 610 1420 547 1219C500 1080 430 920 405 810C398 770 400 740 427 734"/>
<path d="M653 2644C655 2480 615 2300 599 2122"/>
<path d="M660 2737C870 2725 870 2650 820 2618C740 2565 560 2528 452 2525"/>
</g>
<g id="rel-labels">
<rect x="622" y="2340" width="18" height="11" fill="#fff"/><text class="lbl" x="631" y="2349">Link</text>
<rect x="800" y="2617" width="37" height="11" fill="#fff"/><text class="lbl" x="818.5" y="2626">Subscribe</text>
</g>

<text x="379" y="3977" font-family="Liberation Sans,sans-serif" font-size="34" letter-spacing="0.8" fill="#cfcfcf">Presented with <tspan font-weight="bold" fill="#bdbdbd">xmind</tspan></text>
</svg>
